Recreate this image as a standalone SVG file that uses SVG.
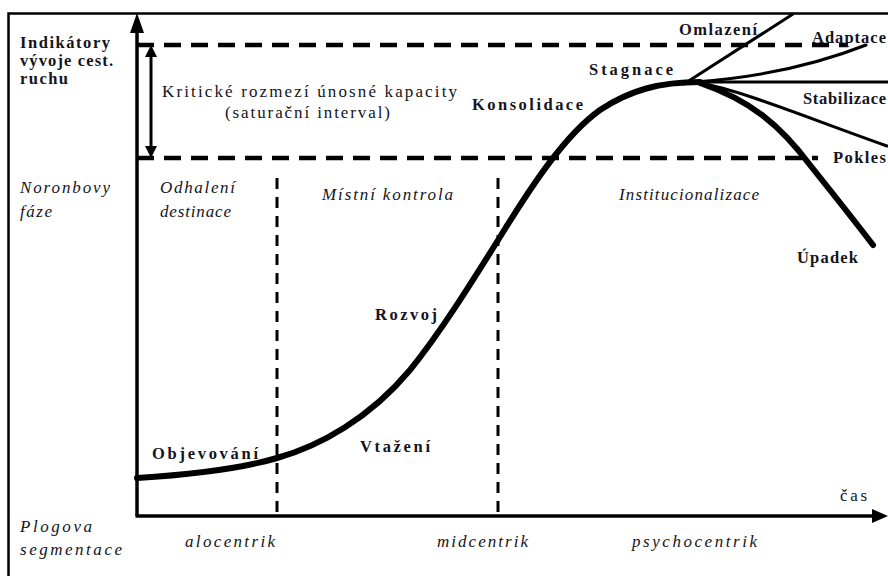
<svg xmlns="http://www.w3.org/2000/svg" width="888" height="576" viewBox="0 0 888 576">
<defs>
<style>
.frame{fill:none;stroke:#000;stroke-width:2.5}
.axis{fill:none;stroke:#000;stroke-width:3.5}
.hd{fill:none;stroke:#000;stroke-width:4.5;stroke-dasharray:17 10}
.vd{fill:none;stroke:#000;stroke-width:3;stroke-dasharray:11 8}
.curve{fill:none;stroke:#000;stroke-width:6;stroke-linecap:round;stroke-linejoin:round}
.thin{fill:none;stroke:#000;stroke-width:3;stroke-linecap:round}
.b{font-family:"Liberation Serif","Times New Roman",serif;font-weight:bold;font-size:16.5px;fill:#141420}
.r{font-family:"Liberation Serif","Times New Roman",serif;font-size:17px;fill:#141420}
.i{font-family:"Liberation Serif","Times New Roman",serif;font-style:italic;font-size:17px;fill:#141420}
</style>
</defs>
<rect width="888" height="576" fill="#fff"/>
<g id="frame">
<rect class="frame" x="8.5" y="13.5" width="900" height="600"/>
</g>
<g id="axes">
<line class="axis" x1="137" y1="516" x2="137" y2="30"/>
<path d="M137,13 L130,33 L144,33 z" fill="#000"/>
<line class="axis" x1="135.5" y1="516" x2="874" y2="516"/>
<path d="M888,516 L872,509 L872,523 z" fill="#000"/>
</g>
<g id="bands">
<line class="hd" x1="137" y1="45" x2="848" y2="45"/>
<line class="hd" x1="137" y1="158" x2="818" y2="158"/>
<line class="vd" x1="277" y1="178" x2="277" y2="516"/>
<line class="vd" x1="498" y1="178" x2="498" y2="516"/>
<line x1="151" y1="55" x2="151" y2="148" stroke="#000" stroke-width="3"/>
<path d="M151,45 L145,57 L157,57 z" fill="#000"/>
<path d="M151,158 L145,146 L157,146 z" fill="#000"/>
</g>
<g id="connectors">
<path class="curve" d="M137,478 C200,474 250,466 277,458 C320,446 370,418 410,370 C440,333 470,285 500,237 C532,185 565,135 600,110 C630,90 660,82 700,82"/>
<path class="thin" d="M684,84 L793,14"/>
<path class="thin" d="M695,82 Q790,75 866,45" stroke-width="4"/>
<path class="thin" d="M700,82 L888,82"/>
<path class="thin" d="M700,83 C740,90 800,115 887,146" stroke-width="4"/>
<path class="curve" d="M700,83 C750,100 780,125 810,165 C830,190 850,215 873,245" stroke-width="5"/>
</g>
<g id="labels">
<text class="b" x="20" y="48" textLength="90" lengthAdjust="spacing">Indikátory</text>
<text class="b" x="20" y="66" textLength="93" lengthAdjust="spacing">vývoje cest.</text>
<text class="b" x="20" y="84" textLength="48" lengthAdjust="spacing">ruchu</text>
<text class="r" x="162" y="97" textLength="295" lengthAdjust="spacing">Kritické rozmezí únosné kapacity</text>
<text class="r" x="225" y="118" textLength="165" lengthAdjust="spacing">(saturační interval)</text>
<text class="b" x="472" y="110" textLength="111" lengthAdjust="spacing">Konsolidace</text>
<text class="b" x="589" y="75" textLength="84" lengthAdjust="spacing">Stagnace</text>
<text class="b" x="679" y="35" textLength="78" lengthAdjust="spacing">Omlazení</text>
<text class="b" x="812" y="43" textLength="74" lengthAdjust="spacing">Adaptace</text>
<text class="b" x="803" y="104" textLength="83" lengthAdjust="spacing">Stabilizace</text>
<text class="b" x="833" y="163" textLength="53" lengthAdjust="spacing">Pokles</text>
<text class="b" x="797" y="263" textLength="61" lengthAdjust="spacing">Úpadek</text>
<text class="i" x="20" y="193" textLength="90" lengthAdjust="spacing" font-size="17.5">Noronbovy</text>
<text class="i" x="20" y="217" textLength="32" lengthAdjust="spacing" font-size="17.5">fáze</text>
<text class="i" x="160" y="193" textLength="75" lengthAdjust="spacing" font-size="17.5">Odhalení</text>
<text class="i" x="160" y="217" textLength="71" lengthAdjust="spacing" font-size="17.5">destinace</text>
<text class="i" x="322" y="200" textLength="131" lengthAdjust="spacing">Místní kontrola</text>
<text class="i" x="619" y="200" textLength="140" lengthAdjust="spacing">Institucionalizace</text>
<text class="b" x="375" y="320" textLength="62" lengthAdjust="spacing">Rozvoj</text>
<text class="b" x="152" y="459" textLength="106" lengthAdjust="spacing">Objevování</text>
<text class="b" x="360" y="452" textLength="70" lengthAdjust="spacing">Vtažení</text>
<text class="r" x="840" y="501" textLength="27" lengthAdjust="spacing">čas</text>
<text class="i" x="20" y="532" textLength="72" lengthAdjust="spacing">Plogova</text>
<text class="i" x="20" y="555" textLength="102" lengthAdjust="spacing">segmentace</text>
<text class="i" x="185" y="547" textLength="90" lengthAdjust="spacing">alocentrik</text>
<text class="i" x="437" y="547" textLength="91" lengthAdjust="spacing">midcentrik</text>
<text class="i" x="632" y="547" textLength="125" lengthAdjust="spacing">psychocentrik</text>
</g>
</svg>
